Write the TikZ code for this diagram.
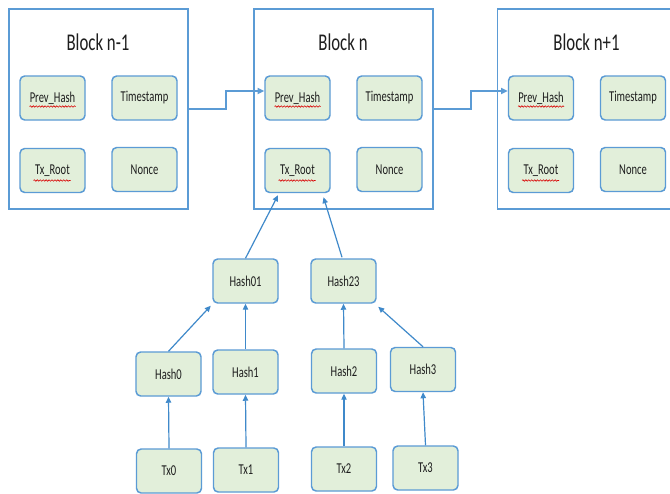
\documentclass[tikz,border=0pt]{standalone}
\usepackage{fontspec}
\setmainfont{Carlito}[FakeStretch=0.7]
\usetikzlibrary{arrows.meta,calc,decorations.pathmorphing}
\definecolor{boxline}{HTML}{5B9BD5}
\definecolor{linkline}{HTML}{3F89CA}
\definecolor{boxfill}{HTML}{E2EFDA}
\definecolor{inktext}{HTML}{1E1E1E}
\tikzset{
  block/.style={draw=boxline, line width=1.1pt, fill=white,
    minimum width=134.25pt, minimum height=150pt, inner sep=0pt},
  blocktitle/.style={font=\fontsize{18pt}{20pt}\selectfont, text=inktext, inner sep=0pt},
  field/.style={draw=boxline, line width=1.1pt, fill=boxfill, rounded corners=3.5pt,
    minimum width=48.75pt, minimum height=33pt, inner sep=0pt,
    font=\fontsize{11.3pt}{13pt}\selectfont, text=inktext},
  chainlink/.style={draw=boxline, line width=1.4pt, -{Triangle[length=5pt,width=4.5pt]}},
  treelink/.style={draw=linkline, line width=0.9pt, -{Triangle[length=4.5pt,width=4pt]}},
  squiggle/.style={draw=red!85!black, line width=0.45pt, decorate,
    decoration={snake, segment length=2.2pt, amplitude=0.55pt}}
}
\begin{document}
\begin{tikzpicture}[x=0.75pt,y=-0.75pt]
\useasboundingbox (0,0) rectangle (670,493);
\clip (0,0) rectangle (670,493);
\fill[white] (0,0) rectangle (670,493);

% the three blocks of the chain, each with its four header fields
\foreach \k/\o/\name in {1/0/{Block n-1}, 2/245/{Block n}, 3/488.5/{Block n+1}} {
  \node[block] (b\k) at (98.5+\o,109) {};
  \node[blocktitle] (t\k) at (98+\o,42) {\name};
  \node[field] (ph\k) at (52.5+\o,98) {Prev\_Hash};
  \node[field] (ts\k) at (144.5+\o,98) {Timestamp};
  \node[field] (tr\k) at (52.5+\o,170.5) {Tx\_Root};
  \node[field] (no\k) at (144.5+\o,169.5) {Nonce};
  \draw[squiggle] ($(ph\k.center)+(-23,8.5)$) -- ($(ph\k.center)+(23,8.5)$);
  \draw[squiggle] ($(tr\k.center)+(-19,10)$) -- ($(tr\k.center)+(18,10)$);
}

% hash pointers between consecutive blocks
\draw[chainlink] (b1.east) -- ++(37,0) |- ($(ph2.west)+(0,-7)$);
\draw[chainlink] (b2.east) -- ++(37,0) |- ($(ph3.west)+(0,-7)$);

% Merkle tree of the transactions in block n
\node[field] (h01) at (245.5,281) {Hash01};
\node[field] (h23) at (343.5,281) {Hash23};
\node[field] (h0) at (168.5,374) {Hash0};
\node[field] (h1) at (245.5,372) {Hash1};
\node[field] (h2) at (344,371) {Hash2};
\node[field] (h3) at (423,369.5) {Hash3};
\node[field] (x0) at (169,471) {Tx0};
\node[field] (x1) at (246,470) {Tx1};
\node[field] (x2) at (344,469) {Tx2};
\node[field] (x3) at (425.5,468) {Tx3};

\draw[treelink] (x0.north) -- (h0.south);
\draw[treelink] (x1.north) -- (h1.south);
\draw[treelink] (x2.north) -- (h2.south);
\draw[treelink] (x3.north) -- (h3.south);
\draw[treelink] (h0.north) -- ($(h01.south west)+(-1.5,2)$);
\draw[treelink] (h1.north) -- (h01.south);
\draw[treelink] (h2.north) -- (h23.south);
\draw[treelink] (h3.north) -- ($(h23.south east)+(1.5,3)$);
\draw[treelink] (h01.north) -- ($(tr2.south)+(-19.5,2)$);
\draw[treelink] ($(h23.north)+(-1.5,-1)$) -- ($(tr2.south)+(26,4)$);
\end{tikzpicture}
\end{document}
